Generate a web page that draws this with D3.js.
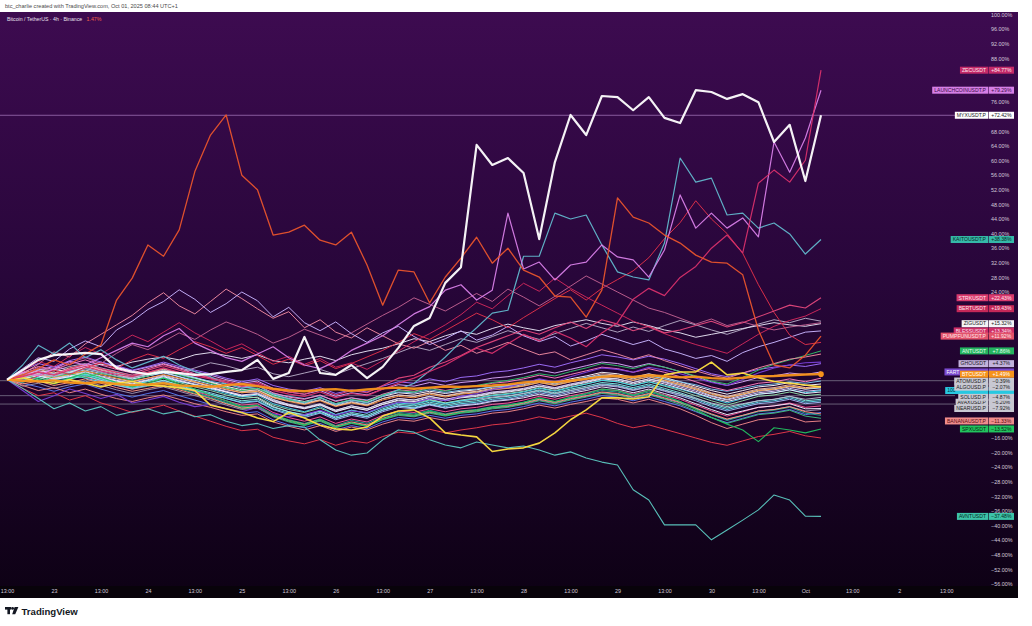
<!DOCTYPE html>
<html><head><meta charset="utf-8">
<script src="https://cdn.jsdelivr.net/npm/d3@7"></script>
<style>html,body{margin:0;padding:0;background:#fff;overflow:hidden}text{font-family:"Liberation Sans",Arial,sans-serif}</style>
</head><body><svg id="c" width="1032" height="626"></svg>
<script>
// ---------- DATA (percent change since first bar, 4h bars Sep 22 13:00 -> Oct 1 05:00) ----------
const priceTicks = [100,96,92,88,84,80,76,72,68,64,60,56,52,48,44,40,36,32,28,24,20,16,12,8,4,0,-4,-8,-12,-16,-20,-24,-28,-32,-36,-40,-44,-48,-52,-56];
const timeTickIdx = [0,3,6,9,12,15,18,21,24,27,30,33,36,39,42,45,48,51,54,57,60];
const timeTickLabels = ["13:00","23","13:00","24","13:00","25","13:00","26","13:00","27","13:00","28","13:00","29","13:00","30","13:00","Oct","13:00","2","13:00"];

const myx = [0,2.6,5.4,6.7,7.0,7.3,7.0,3.2,2.1,1.5, 2.1,1.8,1.3,1.5,2.1,2.6,5.4,0.2,1.8,11.7, 1.8,1.3,4.0,0.4,3.5,8.7,14.7,16.9,26.5,30.8, 64.3,58.8,60.7,56.6,38.5,59.6,72.5,67.0,77.7,77.4, 73.8,77.4,71.7,70.3,79.3,78.8,76.9,78.2,76.0,65.1, 69.8,54.4,72.42];
const zec = [0,0.8,2.0,1.2,2.6,3.6,2.4,1.4,0.8,2.0, 3.2,2.0,1.0,0.2,-0.8,-1.8,-1.2,-3.0,-4.0,-4.6, -3.4,-5.0,-3.8,-4.4,-2.6,-1.0,0.4,2.2,4.0,6.4, 8.6,7.2,9.8,12.4,10.6,13.2,11.4,9.0,12.8,15.6, 22.0,25.0,23.0,28.0,31.0,36.0,39.6,34.7,53.8,57.4, 54.1,60.1,84.77];
const launchcoin = [0,2.0,1.0,3.0,5.0,4.0,6.0,8.0,10.0,9.0, 12.0,14.0,10.0,8.0,6.0,5.0,7.0,9.0,6.0,4.0, 3.0,5.0,8.0,10.0,12.0,15.0,18.0,20.0,24.5,26.0, 21.8,24.5,45.6,30.3,32.2,27.3,31.4,32.2,36.9,33.6, 32.8,28.1,35.5,50.6,41.5,45.6,41.5,44.3,39.1,65.1, 56.8,66.2,79.29];
const kaito = [0,4.0,9.4,7.0,10.0,6.0,8.2,5.4,3.2,4.8, 6.4,4.0,2.2,0.8,-1.2,-2.4,-1.6,-4.0,-5.2,-6.4, -4.8,-6.8,-5.6,-6.4,-4.6,-2.8,-1.0,2.4,6.2,10.4, 14.2,18.2,19.0,33.8,33.8,45.6,44.0,45.1,36.9,29.5, 28.1,27.3,37.4,60.7,54.1,55.2,45.1,45.6,41.5,42.9, 39.9,34.4,38.38];
const pumpfun = [0,1.3,3.0,5.4,4.0,7.0,9.5,21.8,27.8,36.9, 33.8,41.0,57.0,67.0,72.5,56.0,52.0,39.6,40.4,42.3, 38.2,36.9,40.4,31.4,20.4,30.0,29.5,21.0,28.1,33.3, 39.0,31.9,36.0,30.0,28.1,22.9,22.6,17.1,24.5,49.8, 44.5,42.9,39.6,37.4,34.1,32.2,31.9,28.7,13.6,4.0, 3.2,6.7,11.92];
const strk = [0,1.0,2.2,1.4,3.0,4.2,3.0,2.0,1.2,2.6, 3.8,2.6,1.4,0.6,-0.4,-1.4,-0.8,-2.6,-3.4,-4.0, -2.6,-4.2,-3.0,-3.6,-1.6,0.4,1.2,3.4,4.8,6.6, 8.8,10.4,12.0,13.6,12.4,14.2,15.8,14.0,16.4,15.2, 13.4,14.6,12.8,13.6,14.8,16.0,14.4,15.6,17.2,18.8, 20.4,19.6,22.43];
const bert = [0,2.2,5.0,3.6,6.4,8.8,7.0,9.6,12.2,10.4, 13.0,15.6,12.8,10.6,8.2,9.8,7.4,5.0,6.4,4.2, 5.8,3.4,4.6,2.8,5.2,7.8,10.4,12.6,15.0,17.8, 21.2,19.4,23.0,26.4,24.2,27.8,25.0,22.6,20.4,18.2, 16.0,14.4,12.6,11.0,9.6,8.4,7.2,9.8,12.4,14.6, 16.2,17.4,19.43];
const zig = [0,0.8,1.8,2.8,2.0,3.4,4.2,3.6,4.8,5.6, 6.2,5.4,6.8,7.4,6.6,5.8,6.8,5.2,4.6,5.6, 6.4,5.2,6.8,7.8,8.6,9.8,11.2,10.4,12.0,13.2, 12.4,14.0,15.2,14.2,13.4,14.8,15.6,16.4,15.4,14.6, 15.8,14.8,13.6,12.8,11.6,12.4,13.2,14.0,14.8,15.6, 15.0,14.6,15.32];
const bless = [0,3.0,6.0,5.0,8.4,10.6,9.0,13.6,16.0,19.2, 21.4,24.6,22.0,18.4,20.8,24.0,21.6,17.2,19.8,15.6, 13.4,15.8,12.6,10.2,12.8,14.6,11.8,9.6,11.2,13.4, 10.8,12.2,14.6,12.0,10.4,11.8,9.2,10.6,12.4,11.0, 9.6,10.8,8.4,7.2,5.8,6.6,5.0,7.4,9.0,10.2, 11.6,13.0,13.34];
const salmonUp = [0,1.6,4.2,7.6,6.2,9.8,12.4,15.0,17.6,21.0, 23.8,20.2,18.0,21.4,24.8,22.2,19.4,16.8,18.6,14.2, 16.4,13.0,11.4,14.2,12.0,9.8,8.6,10.4,8.0,9.4, 7.2,8.6,10.2,8.4,6.8,7.6,5.4,6.8,8.2,7.0, 5.6,6.8,5.2,3.8,2.4,1.2,0.4,1.8,3.2,4.4, 5.6,6.2,7.0];
const mauve = [0,1.2,3.4,2.2,4.6,6.0,4.4,7.2,9.6,8.2, 10.4,12.8,11.0,13.6,15.8,14.2,12.4,10.0,11.6,13.8, 12.2,10.6,12.8,15.2,17.6,19.8,22.4,20.6,18.8,21.2, 23.6,21.4,24.8,22.6,20.2,22.8,25.6,28.4,26.2,24.0, 21.8,19.6,18.4,16.8,15.2,16.6,14.8,15.8,14.6,13.6, 14.4,15.0,15.6];
const redUp = [0,-0.6,1.0,2.6,1.4,3.2,4.6,3.0,5.4,7.0, 5.8,8.2,10.4,9.0,7.2,8.8,6.6,4.2,5.6,3.8, 5.2,3.0,4.4,6.2,8.0,10.2,12.6,11.0,13.4,15.8, 18.2,16.4,14.2,17.0,19.6,22.2,24.6,21.8,25.0,27.4, 29.8,33.4,38.6,43.0,49.0,44.0,40.0,34.6,26.0,18.4, 12.2,9.6,10.2];
const greyUp = [0,0.6,1.4,0.8,2.0,3.0,2.0,1.0,0.4,1.6, 2.6,1.8,3.2,4.6,3.8,2.6,3.4,1.6,0.8,1.8, 2.8,1.4,3.0,4.4,5.8,7.4,9.0,8.0,9.6,11.2, 10.2,11.8,13.4,12.2,11.0,12.6,14.0,15.4,14.2,13.0, 14.4,13.2,14.8,16.2,15.0,13.6,12.4,13.8,15.2,16.4, 15.6,16.8,16.0];
const ant = [0,0.4,-0.6,0.8,1.6,0.6,1.8,0.8,-0.2,1.0, 2.4,1.2,0.2,-1.0,-2.2,-3.0,-2.4,-4.4,-5.6,-6.2, -5.0,-6.6,-5.4,-6.0,-4.2,-3.0,-3.4,-2.4,-3.2,-2.2, -1.6,-0.8,-0.2,0.6,1.6,1.0,2.2,3.2,4.4,3.8, 3.0,4.2,3.4,2.2,1.0,-0.4,-1.2,0.6,2.6,4.2, 5.4,6.6,7.86];
const gho = [0,2.6,4.4,3.4,5.2,6.2,4.8,3.8,2.6,3.6, 4.8,3.6,2.6,1.6,0.4,-0.6,0.2,-1.6,-2.6,-3.2, -2.2,-3.8,-2.8,-3.4,-1.8,-0.6,-1.0,0.2,-0.6,0.6, 1.0,2.0,2.4,3.2,4.2,3.4,4.6,5.6,6.8,6.2, 5.4,6.4,5.6,4.4,3.0,1.6,0.8,1.8,2.8,3.4, 4.0,3.6,4.37];
const purple = [0,-3.0,-6.0,-4.4,-2.6,-3.8,-5.2,-4.0,-6.4,-5.6, -4.6,-6.2,-7.4,-6.8,-8.0,-8.8,-7.6,-9.4,-10.2,-9.6, -8.4,-9.8,-8.6,-9.0,-7.4,-6.2,-6.4,-5.2,-5.8,-4.6, -3.8,-2.8,-2.0,-1.0,0.2,-0.6,0.8,2.0,3.2,2.8, 2.0,3.4,2.6,1.6,0.4,-0.8,-1.6,0.0,1.8,3.2, 4.0,4.6,4.8];
const fartcoin = [0,1.4,2.6,3.6,2.6,3.8,4.8,3.6,2.4,3.4, 4.4,3.2,2.2,1.2,0.0,-1.0,-0.4,-2.4,-3.4,-4.0, -3.0,-4.6,-3.6,-4.2,-2.6,-1.4,-1.8,-0.8,-1.6,-0.8, -0.4,0.4,0.8,1.6,2.6,1.8,2.8,3.8,4.8,4.4, 3.4,4.4,3.4,2.2,0.8,-0.6,-1.6,-0.6,0.6,1.0, 1.8,1.4,2.1];
const btc = [0,-0.3,-0.5,-0.2,-0.8,-1.0,-0.7,-1.2,-1.5,-1.3, -1.0,-1.6,-1.8,-2.0,-1.5,-1.2,-1.8,-2.5,-3.0,-3.2, -2.8,-2.6,-3.1,-2.7,-2.4,-2.2,-2.5,-2.2,-1.9,-2.0, -1.8,-1.6,-1.3,-0.8,-0.5,-0.7,-0.3,0.2,0.8,1.0, 0.7,1.2,0.9,0.6,0.8,0.4,0.2,0.5,0.9,1.0, 1.2,1.4,1.49];
const atom = [0,1.2,2.0,1.5,2.4,3.0,2.2,1.6,0.8,1.5, 2.2,1.4,0.6,-0.5,-1.2,-2.0,-2.4,-3.8,-4.6,-5.2, -4.4,-5.8,-5.0,-5.6,-4.2,-3.4,-3.6,-2.8,-3.5,-2.9, -2.6,-2.0,-1.8,-1.2,-0.4,-1.0,-0.3,0.6,1.2,1.0, 0.4,1.1,0.2,-0.6,-1.4,-2.6,-3.2,-2.4,-1.6,-1.2, -0.6,-1.0,-0.39];
const algo = [0,0.8,1.6,0.4,1.2,2.2,1.0,0.2,-0.6,0.4, 1.2,0.2,-0.8,-1.8,-2.8,-3.6,-3.2,-5.4,-6.8,-7.6, -6.6,-8.4,-7.2,-8.0,-6.4,-5.2,-5.6,-4.6,-5.4,-4.8, -4.4,-3.6,-3.2,-2.6,-1.8,-2.4,-1.4,-0.6,0.4,0.2, -0.8,0.2,-0.6,-1.6,-2.8,-4.4,-5.4,-4.2,-3.2,-2.8, -2.0,-2.6,-2.07];
const pepe = [0,-0.6,0.8,1.8,0.6,1.4,0.4,-0.8,-1.6,-0.4, 0.6,-0.6,-1.4,-2.6,-3.8,-4.8,-4.2,-6.6,-7.8,-8.8, -7.4,-9.6,-8.4,-9.2,-7.6,-6.4,-6.8,-5.8,-6.6,-5.8, -5.2,-4.4,-4.0,-3.4,-2.4,-3.2,-2.2,-1.2,-0.2,-0.6, -1.6,-0.6,-1.6,-2.6,-3.8,-5.2,-6.4,-5.2,-4.0,-3.6, -2.8,-3.6,-3.0];
const sol = [0,1.6,3.0,2.4,3.6,4.4,3.2,2.2,1.2,2.0, 3.0,1.8,0.6,-0.8,-2.0,-3.2,-3.6,-5.6,-6.8,-7.8, -6.8,-8.6,-7.6,-8.4,-6.8,-5.8,-6.2,-5.4,-6.4,-5.8, -5.4,-4.8,-4.4,-3.8,-3.0,-3.8,-3.0,-2.2,-1.4,-1.8, -2.8,-2.0,-3.0,-4.0,-5.2,-6.4,-7.4,-6.6,-5.8,-5.4, -4.6,-5.4,-4.87];
const avax = [0,0.4,1.4,0.2,0.8,1.6,0.2,-1.0,-2.2,-1.2, -0.2,-1.6,-2.8,-4.0,-5.2,-6.4,-6.0,-8.2,-9.6,-10.4, -9.2,-11.0,-9.8,-10.6,-8.8,-7.6,-8.0,-7.0,-7.8,-7.0, -6.6,-5.8,-5.4,-4.6,-3.6,-4.4,-3.4,-2.6,-1.6,-2.0, -3.0,-2.0,-3.2,-4.4,-5.8,-7.4,-8.6,-7.6,-6.6,-6.2, -5.4,-6.6,-6.2];
const near = [0,1.0,2.4,1.6,2.8,3.8,2.6,1.4,0.2,1.0, 2.0,0.8,-0.6,-2.0,-3.4,-4.6,-5.0,-7.4,-8.8,-9.8, -8.6,-10.6,-9.4,-10.2,-8.4,-7.2,-7.8,-6.8,-7.8,-7.2, -6.8,-6.0,-5.6,-5.0,-4.0,-4.8,-3.8,-3.0,-2.0,-2.6, -3.6,-2.6,-3.8,-5.0,-6.6,-8.2,-9.6,-8.6,-7.6,-7.2, -6.6,-8.0,-7.92];
const pink = [0,2.0,3.6,2.8,4.2,5.4,4.0,2.8,1.8,3.0, 4.2,3.0,1.6,0.4,-0.8,-2.0,-1.6,-3.6,-4.8,-5.4, -4.2,-6.0,-5.0,-5.8,-4.0,-2.8,-3.2,-2.2,-3.0,-2.2, -1.8,-1.0,-0.6,0.2,1.2,0.4,1.4,2.4,3.4,3.0, 2.0,3.0,2.0,0.8,-0.6,-2.0,-3.0,-2.0,-1.0,-0.6, 0.2,-0.6,0.4];
const salmon = [0,-1.2,-0.4,-1.6,-0.8,0.2,-1.0,-2.2,-3.2,-2.4, -1.6,-2.8,-4.0,-5.2,-6.6,-7.8,-7.4,-9.8,-11.2,-12.2, -11.0,-12.8,-11.6,-12.4,-10.6,-9.4,-9.8,-8.8,-9.6,-8.8, -8.4,-7.6,-7.2,-6.4,-5.4,-6.2,-5.2,-4.4,-3.4,-3.8, -4.8,-3.8,-5.0,-6.2,-7.8,-9.4,-10.8,-9.8,-8.6,-8.2, -7.4,-8.8,-9.4];
const teal = [0,0.6,1.0,-0.2,0.6,1.2,0.0,-1.2,-2.4,-1.6, -0.8,-2.2,-3.4,-4.8,-6.2,-7.6,-7.2,-9.6,-11.0,-12.0, -10.8,-12.6,-11.2,-12.0,-10.2,-9.0,-9.4,-8.4,-9.4,-8.6, -8.2,-7.4,-7.0,-6.2,-5.2,-6.0,-5.0,-4.0,-3.0,-3.4, -4.4,-3.4,-4.6,-6.0,-7.8,-9.6,-11.2,-10.0,-8.8,-8.4, -7.6,-9.2,-9.8];
const green = [0,-0.8,0.6,1.4,0.2,1.0,-0.2,-1.4,-2.6,-1.8, -1.0,-2.4,-3.8,-5.0,-6.4,-8.0,-7.6,-10.2,-11.6,-12.6, -11.4,-13.2,-12.0,-12.8,-11.0,-9.8,-10.2,-9.2,-10.0,-9.2, -8.8,-8.0,-7.6,-6.8,-5.8,-6.6,-5.6,-4.8,-3.8,-4.2, -5.2,-4.2,-5.4,-6.8,-8.6,-10.4,-12.0,-10.8,-9.6,-9.2, -8.4,-10.0,-10.6];
const spx = [0,1.4,0.2,-1.2,0.4,1.8,0.6,-0.8,-2.0,-1.0, 0.4,-1.2,-2.6,-4.2,-5.8,-7.4,-7.0,-9.6,-11.2,-12.4, -11.0,-13.0,-11.8,-12.8,-10.8,-9.4,-9.8,-8.6,-9.8,-9.0, -8.4,-7.6,-7.0,-6.2,-5.0,-6.0,-4.8,-3.8,-2.6,-3.0, -4.2,-3.0,-4.4,-6.0,-8.2,-10.4,-12.2,-13.8,-17.0,-13.2, -13.8,-14.6,-13.52];
const banana = [0,-1.6,-3.0,-2.2,-3.6,-2.6,-4.0,-5.2,-6.0,-5.0, -4.2,-5.4,-6.6,-7.6,-8.8,-9.8,-9.4,-11.6,-12.8,-13.8, -12.6,-14.2,-13.0,-13.8,-12.2,-11.0,-11.4,-10.4,-11.2,-10.4, -10.0,-9.2,-8.8,-8.0,-7.0,-7.8,-6.8,-6.0,-5.0,-5.4, -6.4,-5.4,-6.6,-8.0,-9.8,-11.8,-13.4,-12.2,-11.0,-10.6, -10.2,-11.6,-11.33];
const red = [0,-2.4,-4.4,-3.6,-5.6,-4.4,-6.4,-7.6,-9.0,-8.0, -7.0,-8.6,-10.0,-11.4,-12.8,-14.0,-13.6,-15.8,-16.8,-17.6, -16.4,-18.0,-16.8,-17.4,-15.6,-14.4,-14.8,-13.6,-14.6,-13.8, -13.2,-12.4,-12.0,-11.2,-10.2,-11.0,-10.0,-9.2,-10.4,-12.0, -13.2,-12.4,-13.6,-14.8,-16.0,-17.2,-18.0,-16.8,-15.6,-15.0, -14.2,-15.4,-16.0];
const white2 = [0,0.2,1.0,0.0,0.8,1.8,0.6,-0.4,-1.2,-0.2, 0.8,-0.4,-1.4,-2.4,-3.4,-4.4,-4.0,-6.0,-7.2,-8.0, -7.0,-8.8,-7.6,-8.4,-6.8,-5.6,-6.0,-5.0,-5.8,-5.0, -4.6,-3.8,-3.4,-2.8,-1.8,-2.6,-1.6,-0.8,0.2,-0.2, -1.2,-0.2,-1.2,-2.4,-3.6,-5.0,-6.0,-5.0,-4.0,-3.6, -2.8,-3.8,-3.4];
const peach = [0,1.8,2.8,1.8,3.2,4.0,2.8,1.8,0.8,1.8, 2.8,1.6,0.4,-0.8,-2.2,-3.2,-2.8,-4.8,-5.8,-6.6, -5.6,-7.2,-6.2,-7.0,-5.2,-4.2,-4.6,-3.6,-4.4,-3.6, -3.2,-2.4,-2.0,-1.4,-0.4,-1.2,-0.2,0.6,1.6,1.2, 0.2,1.2,0.2,-1.0,-2.2,-3.6,-4.6,-3.6,-2.6,-2.2, -1.4,-2.2,-1.8];
const blue = [0,-1.0,-2.0,-3.2,-2.0,-1.2,-2.6,-3.8,-4.8,-3.8, -3.0,-4.4,-5.6,-6.8,-8.0,-9.2,-8.8,-11.0,-12.4,-13.2, -12.0,-13.8,-12.6,-13.4,-11.6,-10.4,-10.8,-9.8,-10.6,-9.8, -9.4,-8.6,-8.2,-7.4,-6.4,-7.2,-6.2,-5.4,-4.4,-4.8, -5.8,-4.8,-6.0,-7.2,-8.8,-10.4,-11.8,-10.6,-9.4,-9.0, -8.2,-9.6,-9.0];
const lightGreen = [0,0.8,0.0,1.2,2.2,1.4,0.4,-0.6,-1.4,-0.6, 0.4,-0.8,-2.0,-3.0,-4.2,-5.2,-4.8,-7.0,-8.2,-9.0, -7.8,-9.6,-8.4,-9.2,-7.4,-6.2,-6.6,-5.6,-6.4,-5.6, -5.0,-4.2,-3.8,-3.2,-2.2,-3.0,-2.0,-1.2,-0.2,-0.6, -1.6,-0.6,-1.8,-3.0,-4.4,-5.8,-7.0,-5.8,-4.6,-4.2, -3.4,-4.4,-4.0];
const pink2 = [0,0.6,-0.8,0.4,1.6,0.8,-0.4,-1.6,-2.6,-1.6, -0.6,-2.0,-3.2,-4.4,-5.8,-7.0,-6.6,-9.0,-10.4,-11.4, -10.2,-12.0,-10.8,-11.6,-9.8,-8.6,-9.0,-8.0,-8.8,-8.0, -7.6,-6.8,-6.4,-5.6,-4.6,-5.4,-4.4,-3.6,-2.6,-3.0, -4.0,-3.0,-4.2,-5.4,-7.0,-8.6,-10.0,-8.8,-7.6,-7.2, -6.4,-7.6,-7.2];
const aqua = [0,-0.4,0.6,-0.6,0.2,1.0,-0.2,-1.2,-2.0,-1.2, -0.2,-1.4,-2.6,-3.6,-4.8,-5.8,-5.4,-7.6,-8.8,-9.6, -8.6,-10.2,-9.0,-9.8,-8.0,-6.8,-7.2,-6.2,-7.0,-6.2, -5.8,-5.0,-4.6,-3.8,-2.8,-3.6,-2.6,-1.8,-0.8,-1.2, -2.2,-1.2,-2.4,-3.6,-5.0,-6.6,-7.8,-6.8,-5.8,-5.4, -4.6,-5.8,-5.4];
const orange2 = [0,0.6,1.4,0.6,1.4,2.4,1.4,0.4,-0.4,0.4, 1.4,0.4,-0.6,-1.6,-2.6,-3.6,-3.2,-5.0,-6.0,-6.8, -5.8,-7.4,-6.4,-7.2,-5.6,-4.6,-5.0,-4.0,-4.8,-4.0, -3.6,-2.8,-2.4,-1.8,-0.8,-1.6,-0.6,0.2,1.2,0.8, -0.2,0.8,-0.2,-1.4,-2.6,-4.0,-5.0,-4.0,-3.0,-2.6, -1.8,-2.4,-2.0];
const grey = [0,-1.8,-1.0,-2.4,-1.4,-0.4,-1.6,-2.8,-3.8,-2.8, -2.0,-3.2,-4.4,-5.6,-7.0,-8.2,-7.8,-10.0,-11.4,-12.4, -11.2,-13.0,-11.8,-12.6,-10.8,-9.6,-10.0,-9.0,-9.8,-9.0, -8.6,-7.8,-7.4,-6.6,-5.6,-6.4,-5.4,-4.6,-3.6,-4.0, -5.0,-4.0,-5.2,-6.4,-8.0,-9.6,-11.0,-9.8,-8.6,-8.2, -7.4,-8.6,-8.2];
const lightBlue2 = [0,0.9,1.7,1.0,1.9,2.6,1.7,0.9,0.1,1.0, 1.8,0.8,-0.2,-1.3,-2.3,-3.2,-2.8,-4.6,-5.6,-6.4, -5.5,-7.0,-6.0,-6.8,-5.2,-4.2,-4.6,-3.7,-4.5,-3.8, -3.4,-2.7,-2.3,-1.7,-0.8,-1.5,-0.6,0.2,1.1,0.7, -0.2,0.7,-0.3,-1.3,-2.5,-3.8,-4.8,-3.9,-2.9,-2.5, -1.8,-2.6,-2.3];
const white3 = [0,1.4,2.2,1.4,2.6,3.4,2.4,1.4,0.6,1.4, 2.4,1.4,0.4,-0.6,-1.8,-2.8,-2.4,-4.2,-5.2,-6.0, -5.0,-6.6,-5.6,-6.2,-4.6,-3.6,-4.0,-3.2,-3.8,-3.2, -2.8,-2.0,-1.6,-1.0,0.0,-0.8,0.2,1.0,2.0,1.6, 0.6,1.6,0.6,-0.6,-1.8,-3.0,-4.0,-3.0,-2.0,-1.6, -0.8,-1.6,-1.2];
const lavender2 = [0,0.4,1.2,0.4,1.0,2.0,0.8,-0.2,-1.0,0.0, 1.0,-0.2,-1.2,-2.2,-3.2,-4.2,-3.8,-5.8,-7.0,-7.8, -6.8,-8.4,-7.2,-8.0,-6.4,-5.2,-5.6,-4.6,-5.4,-4.6, -4.2,-3.4,-3.0,-2.4,-1.4,-2.2,-1.2,-0.4,0.6,0.2, -0.8,0.2,-0.8,-2.0,-3.2,-4.6,-5.6,-4.6,-3.6,-3.2, -2.4,-3.2,-2.8];
const cyan2 = [0,0.2,-0.6,0.6,1.4,0.4,-0.6,-1.6,-2.4,-1.6, -0.6,-1.8,-3.0,-4.0,-5.2,-6.2,-5.8,-8.0,-9.2,-10.0, -9.0,-10.6,-9.4,-10.2,-8.4,-7.2,-7.6,-6.6,-7.4,-6.6, -6.2,-5.4,-5.0,-4.2,-3.2,-4.0,-3.0,-2.2,-1.2,-1.6, -2.6,-1.6,-2.8,-4.0,-5.4,-7.0,-8.2,-7.2,-6.2,-5.8, -5.0,-6.2,-5.8];
const yellow = [0,0.5,-0.5,-1.0,0.0,-1.0,-2.0,-1.0,-0.5,-1.5, -1.8,-2.2,-3.0,-7.0,-8.0,-9.0,-10.5,-11.5,-9.0,-10.5, -12.5,-13.5,-13.8,-13.0,-10.0,-8.6,-8.3,-10.5,-14.6,-15.2, -15.7,-19.7,-19.0,-18.7,-17.4,-14.6,-11.0,-8.3,-5.0,-5.0, -5.3,-4.7,1.3,2.1,2.1,4.8,1.3,1.8,0.5,-0.5, -1.0,-1.5,-2.0];
const avnt = [0,-2.4,-5.2,-8.0,-6.4,-8.6,-7.4,-9.8,-8.8,-8.0, -9.4,-8.6,-10.2,-9.6,-11.4,-12.6,-12.0,-13.4,-12.6,-13.0, -16.5,-19.3,-20.7,-20.1,-16.5,-13.8,-14.4,-16.5,-17.9,-18.7, -17.1,-17.9,-18.7,-18.2,-19.3,-20.7,-19.8,-21.5,-22.6,-23.4, -30.2,-33.0,-39.8,-39.8,-39.8,-43.9,-41.2,-38.5,-35.7,-31.6, -33.0,-37.4,-37.48];

const priceLineValues = [-0.3, -4.4, -6.7];

// ---------- STYLE TABLES ----------
const lines = [
  {v: red, c:"#e8394a", w:1}, {v: grey, c:"#9a96b0", w:1}, {v: blue, c:"#5a7cf0", w:1},
  {v: green, c:"#3fbf7c", w:1}, {v: teal, c:"#22a898", w:1}, {v: salmon, c:"#ff9a80", w:1},
  {v: banana, c:"#f08888", w:1}, {v: pink2, c:"#ff5a9a", w:1}, {v: near, c:"#f0f0ff", w:1},
  {v: avax, c:"#a4bcf8", w:1}, {v: aqua, c:"#80f0e0", w:1}, {v: cyan2, c:"#60e0f0", w:1},
  {v: sol, c:"#bcbcd0", w:1}, {v: lavender2, c:"#e0d0ff", w:1},
  {v: lightGreen, c:"#94e2aa", w:1}, {v: pepe, c:"#44d8ea", w:1}, {v: white2, c:"#f4f4ff", w:1},
  {v: algo, c:"#dadaea", w:1}, {v: lightBlue2, c:"#b0e0ff", w:1}, {v: orange2, c:"#ff9c40", w:1},
  {v: peach, c:"#ffc4a0", w:1}, {v: white3, c:"#ffffff", w:1},
  {v: atom, c:"#7ec8f0", w:1}, {v: fartcoin, c:"#d8a8f8", w:1}, {v: pink, c:"#ff7fc0", w:1},
  {v: gho, c:"#a070ff", w:1}, {v: purple, c:"#7a40d8", w:1.1}, {v: ant, c:"#30c068", w:1},
  {v: spx, c:"#22c060", w:1.1}, {v: greyUp, c:"#b4aac4", w:1}, {v: zig, c:"#e8e4f4", w:1},
  {v: mauve, c:"#c06090", w:1}, {v: salmonUp, c:"#f08aa0", w:1}, {v: bless, c:"#c8b4ff", w:1},
  {v: redUp, c:"#e0304a", w:1}, {v: bert, c:"#d0285c", w:1}, {v: strk, c:"#e4487c", w:1.1},
  {v: avnt, c:"#5cc8c0", w:1.1}, {v: yellow, c:"#ffe040", w:1.6}, {v: kaito, c:"#62b8cc", w:1.2},
  {v: launchcoin, c:"#d880e8", w:1.2}, {v: zec, c:"#d8306c", w:1.2}, {v: pumpfun, c:"#e8542c", w:1.3},
  {v: btc, c:"#f7931a", w:2.4}, {v: myx, c:"#ffffff", w:2.2}
];

// "shown": the part of a label's name that is left visible because a later label covers the rest
const labels = [
  {v: zec, n:"ZECUSDT", bg:"#c42a68", fg:"#ffe4f0"},
  {v: launchcoin, n:"LAUNCHCOINUSDT.P", bg:"#d67fe6", fg:"#3a0a44"},
  {v: myx, n:"MYXUSDT.P", bg:"#ffffff", fg:"#1a1a1a"},
  {v: kaito, n:"KAITOUSDT.P", bg:"#35b9a8", fg:"#082824"},
  {v: strk, n:"STRKUSDT", bg:"#d8396c", fg:"#ffe4ee"},
  {v: bert, n:"BERTUSDT", bg:"#c52858", fg:"#ffe4ee"},
  {v: bless, n:"BLESSUSDT", bg:"#cf2e66", fg:"#ffe4ee"},
  {v: zig, n:"ZIGUSDT", bg:"#f4f4f6", fg:"#1a1a1a"},
  {v: pumpfun, n:"PUMPFUNUSDT.P", bg:"#e2526a", fg:"#ffe8ec"},
  {v: ant, n:"ANTUSDT", bg:"#23b35f", fg:"#e8fff0"},
  {v: gho, n:"GHOUSDT", bg:"#c3b3dc", fg:"#1a1a1a"},
  {v: fartcoin, n:"FARTCOINUSDT", shown:"FART", bg:"#7a4ad0", fg:"#ffffff"},
  {v: atom, n:"ATOMUSD.P", bg:"#c8c8d2", fg:"#1a1a1a"},
  {v: btc, n:"BTCUSDT", bg:"#f7931a", fg:"#ffffff"},
  {v: pepe, n:"1000PEPEUSDT", shown:"100", bg:"#28c8e0", fg:"#063040"},
  {v: algo, n:"ALGOUSD.P", bg:"#c8c8d2", fg:"#1a1a1a"},
  {v: avax, n:"AVAXUSD.P", bg:"#c8c8d2", fg:"#1a1a1a"},
  {v: sol, n:"SOLUSD.P", bg:"#c8c8d2", fg:"#1a1a1a"},
  {v: near, n:"NEARUSD.P", bg:"#c8c8d2", fg:"#1a1a1a"},
  {v: banana, n:"BANANAUSDT.P", bg:"#f08c8c", fg:"#5a0a10"},
  {v: spx, n:"SPXUSDT", bg:"#22c35e", fg:"#062a12"},
  {v: avnt, n:"AVNTUSDT", bg:"#3cc3a8", fg:"#062a20"}
];

// ---------- DRAW ----------
const svg = d3.select("#c");
const W = 1032, H = 626, panelR = 1018, panelT = 12, axisT = 586, panelB = 598;
const x = d3.scaleLinear().domain([0, 52]).range([7, 821]);
const y = d3.scaleLinear().domain([-56, 100]).range([584, 14.6]);

svg.append("rect").attr("width", W).attr("height", H).attr("fill", "#ffffff");
const defs = svg.append("defs");
const grad = defs.append("linearGradient").attr("id", "bg").attr("x1", 0).attr("y1", 0).attr("x2", 0).attr("y2", 1);
grad.append("stop").attr("offset", "0%").attr("stop-color", "#3d0b50");
grad.append("stop").attr("offset", "45%").attr("stop-color", "#28063a");
grad.append("stop").attr("offset", "100%").attr("stop-color", "#0d0114");
defs.append("clipPath").attr("id", "plot").append("rect").attr("x", 0).attr("y", panelT).attr("width", panelR).attr("height", axisT - panelT);

svg.append("rect").attr("x", 0).attr("y", panelT).attr("width", panelR).attr("height", panelB - panelT).attr("fill", "url(#bg)");

// header
svg.append("text").attr("x", 5).attr("y", 8).attr("font-size", 5.6).attr("fill", "#4a4a4a")
  .text("btc_charlie created with TradingView.com, Oct 01, 2025 08:44 UTC+1");
const legend = svg.append("text").attr("x", 7).attr("y", 21).attr("font-size", 5.2).attr("fill", "#e8e0ee");
legend.append("tspan").text("Bitcoin / TetherUS · 4h · Binance ");
legend.append("tspan").attr("fill", "#f2604a").attr("dx", 3).text("1.47%");

const plot = svg.append("g").attr("clip-path", "url(#plot)");

// price axis (right) - tick labels that sit under a series label are covered, so they are left out
const labelYs = labels.map(d => y(d.v[d.v.length - 1]));
const visibleTicks = priceTicks.filter(t => labelYs.every(ly => Math.abs(y(t) - ly) > 4.6));
const yAxis = d3.axisRight(y).tickValues(visibleTicks).tickSize(0).tickPadding(0)
  .tickFormat(d => (d < 0 ? "\u2212" + Math.abs(d).toFixed(2) : d.toFixed(2)) + "%");
const ya = svg.append("g").attr("transform", "translate(991,0)").call(yAxis);
ya.select(".domain").remove();
ya.selectAll("text").attr("font-size", 5.4).attr("fill", "#d4cada").attr("font-family", "Liberation Sans, Arial, sans-serif");

// horizontal price lines
plot.selectAll("line.pl").data(priceLineValues).enter().append("line")
  .attr("x1", 0).attr("x2", 955).attr("y1", d => y(d)).attr("y2", d => y(d))
  .attr("stroke", "#8c8a9c").attr("stroke-width", 0.8).attr("opacity", 0.85);
plot.append("line").attr("x1", 0).attr("x2", 957).attr("y1", y(myx[myx.length - 1])).attr("y2", y(myx[myx.length - 1]))
  .attr("stroke", "#b88ad0").attr("stroke-width", 0.8).attr("opacity", 0.8);

// series lines
const lineGen = d3.line().x((d, i) => x(i)).y(d => y(d));
plot.selectAll("path.s").data(lines).enter().append("path")
  .attr("d", d => lineGen(d.v)).attr("fill", "none")
  .attr("stroke", d => d.c).attr("stroke-width", d => d.w)
  .attr("stroke-linejoin", "round").attr("stroke-opacity", 0.95);
plot.append("circle").attr("cx", x(btc.length - 1)).attr("cy", y(btc[btc.length - 1])).attr("r", 2.8).attr("fill", "#f7931a");

// series labels on the price scale
const lg = svg.append("g");
const fmt = v => (v >= 0 ? "+" : "\u2212") + Math.abs(v).toFixed(2) + "%";
labels.forEach(d => {
  const val = d.v[d.v.length - 1];
  const cy = y(val);
  const g = lg.append("g");
  const rN = g.append("rect");
  const tN = g.append("text").text(d.n).attr("font-size", 5.1).attr("fill", d.fg).attr("dy", "0.35em");
  const w = tN.node().getComputedTextLength() + 4;
  rN.attr("x", 988 - w).attr("y", cy - 3.5).attr("width", w).attr("height", 7).attr("fill", d.bg);
  if (d.shown) {
    tN.text(d.shown).attr("x", 988 - w + 2).attr("y", cy);
  } else {
    tN.attr("text-anchor", "middle").attr("x", 988 - w / 2).attr("y", cy);
  }
  g.append("rect").attr("x", 988.6).attr("y", cy - 3.5).attr("width", 25.4).attr("height", 7).attr("fill", d.bg);
  if (!d.shown) {
    g.append("text").text(fmt(val)).attr("x", 1001.3).attr("y", cy).attr("dy", "0.35em")
      .attr("text-anchor", "middle").attr("font-size", 5.1).attr("fill", d.fg);
  }
});

// time axis band
svg.append("rect").attr("x", 0).attr("y", axisT).attr("width", panelR).attr("height", panelB - axisT).attr("fill", "#08030a");
const xAxis = d3.axisBottom(x).tickValues(timeTickIdx).tickSize(0).tickPadding(3.5)
  .tickFormat((d, i) => timeTickLabels[i]);
const xa = svg.append("g").attr("transform", "translate(0," + axisT + ")").call(xAxis);
xa.select(".domain").remove();
xa.selectAll("text").attr("font-size", 5.4).attr("fill", "#d4cada").attr("font-family", "Liberation Sans, Arial, sans-serif");

// white margin right of panel
svg.append("rect").attr("x", panelR).attr("y", 0).attr("width", W - panelR).attr("height", H).attr("fill", "#ffffff");

// TradingView logo
const logo = svg.append("g").attr("fill", "#131722");
logo.append("rect").attr("x", 5).attr("y", 607).attr("width", 6.2).attr("height", 2.6);
logo.append("rect").attr("x", 7.4).attr("y", 607).attr("width", 2.6).attr("height", 7.2);
logo.append("circle").attr("cx", 12.6).attr("cy", 608.4).attr("r", 1.4);
logo.append("path").attr("d", "M14.6 607 L18.4 607 L15.2 614.2 L12.2 614.2 Z");
svg.append("text").attr("x", 21.5).attr("y", 614.5).attr("font-size", 9.6).attr("font-weight", "bold")
  .attr("fill", "#131722").text("TradingView");
</script>
</body></html>
